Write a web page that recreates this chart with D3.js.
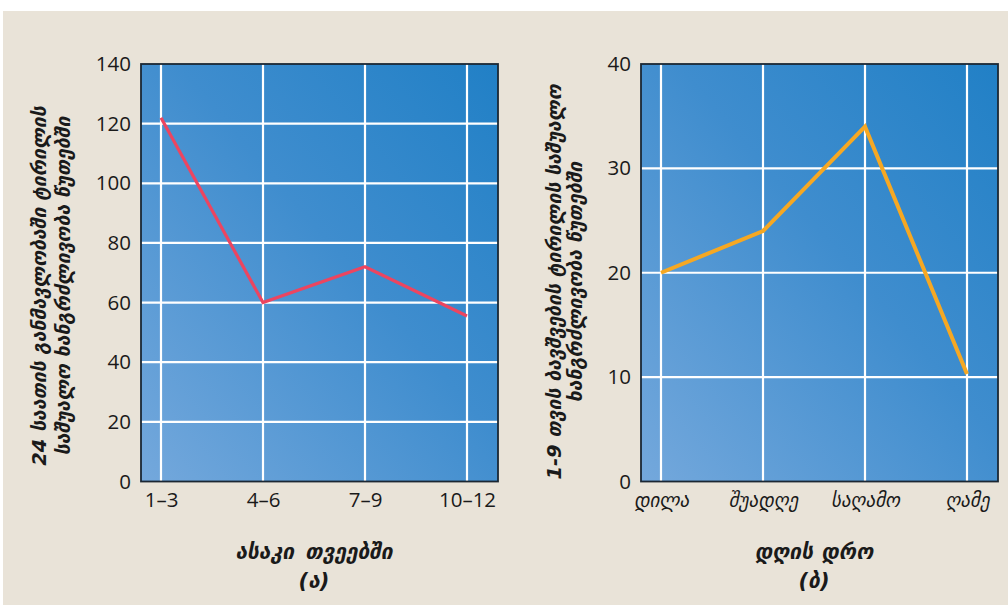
<!DOCTYPE html>
<html>
<head>
<meta charset="utf-8">
<script src="https://cdn.jsdelivr.net/npm/d3@7"></script>
<style>
html,body{margin:0;padding:0;background:#fff;}
svg{display:block;}
</style>
</head>
<body>
<svg id="chart" width="1008" height="605"></svg>
<script>
// ---- data ----
const ageCategories = ["1–3", "4–6", "7–9", "10–12"];
const ageValues = [122, 60, 72, 55.5];
const ageTicks = [0, 20, 40, 60, 80, 100, 120, 140];

const dayCategories = ["დილა", "შუადღე", "საღამო", "ღამე"];
const dayValues = [20, 24, 34, 10.3];
const dayTicks = [0, 10, 20, 30, 40];

const leftYTitle = ["24 საათის განმავლობაში ტირილის", "საშუალო ხანგრძლივობა წუთებში"];
const rightYTitle = ["1-9 თვის ბავშვების ტირილის საშუალო", "ხანგრძლივობა წუთებში"];
const leftXTitle = ["ასაკი თვეებში", "(ა)"];
const rightXTitle = ["დღის დრო", "(ბ)"];

const svg = d3.select("#chart");
svg.append("rect").attr("x", 3).attr("y", 11).attr("width", 1005).attr("height", 594).attr("fill", "#e9e3d8");

const defs = svg.append("defs");
const grad = defs.append("linearGradient").attr("id", "bg").attr("x1", 0).attr("y1", 1).attr("x2", 1).attr("y2", 0);
grad.append("stop").attr("offset", "0%").attr("stop-color", "#74a8dc");
grad.append("stop").attr("offset", "55%").attr("stop-color", "#3f8dce");
grad.append("stop").attr("offset", "100%").attr("stop-color", "#2180c6");

const geoFont = "'DejaVu Sans', sans-serif";
const numFont = "'Open Sans', 'Noto Sans', sans-serif";

function panel(cfg) {
  const {x0, x1, y0, y1, cats, vals, ticks, color, width, yTitle, xTitle, georgianTicks} = cfg;
  const g = svg.append("g");
  const x = d3.scalePoint().domain(cats).range([x0 + 20, x1 - 31]);
  const y = d3.scaleLinear().domain([ticks[0], ticks[ticks.length - 1]]).range([y1, y0]);

  g.append("rect").attr("x", x0).attr("y", y0).attr("width", x1 - x0).attr("height", y1 - y0)
    .attr("fill", "url(#bg)");

  // grid
  g.selectAll(".hg").data(ticks.slice(1, -1)).join("line")
    .attr("x1", x0).attr("x2", x1).attr("y1", d => y(d)).attr("y2", d => y(d))
    .attr("stroke", "#fff").attr("stroke-width", 2.2);
  g.selectAll(".vg").data(cats).join("line")
    .attr("x1", d => x(d)).attr("x2", d => x(d)).attr("y1", y0).attr("y2", y1)
    .attr("stroke", "#fff").attr("stroke-width", 2.2);

  g.append("rect").attr("x", x0).attr("y", y0).attr("width", x1 - x0).attr("height", y1 - y0)
    .attr("fill", "none").attr("stroke", "#1b2733").attr("stroke-width", 1.8);

  // line
  const line = d3.line().x((d, i) => x(cats[i])).y(d => y(d));
  g.append("path").datum(vals).attr("d", line).attr("fill", "none")
    .attr("stroke", color).attr("stroke-width", width).attr("stroke-linejoin", "miter");

  // y axis
  const ya = d3.axisLeft(y).tickValues(ticks).tickSize(0).tickPadding(10).tickFormat(d3.format("d"));
  const yg = g.append("g").attr("transform", `translate(${x0},0)`).call(ya);
  yg.select(".domain").remove();
  yg.selectAll("text").attr("font-family", numFont).attr("font-size", 20.5).attr("fill", "#1a1a1a");

  // x axis
  const xa = d3.axisBottom(x).tickSize(0).tickPadding(georgianTicks ? 12 : 11);
  const xg = g.append("g").attr("transform", `translate(0,${y1})`).call(xa);
  xg.select(".domain").remove();
  xg.selectAll("text")
    .attr("font-family", georgianTicks ? geoFont : numFont)
    .attr("font-size", georgianTicks ? 19 : 20.5)
    .attr("font-style", georgianTicks ? "italic" : "normal")
    .attr("fill", "#1a1a1a");

  // y title
  const ty = g.append("text").attr("transform", `translate(${yTitle.x},${yTitle.y}) rotate(-90)`)
    .attr("text-anchor", "middle").attr("font-family", geoFont).attr("font-size", 19.5)
    .attr("font-style", "italic").attr("font-weight", "bold").attr("fill", "#1a1a1a");
  yTitle.lines.forEach((t, i) => {
    ty.append("tspan").attr("x", 0).attr("dy", i === 0 ? 0 : yTitle.gap).text(t);
  });

  // x title
  const tx = (x0 + 20 + x1 - 31) / 2;
  xTitle.forEach((t, i) => {
    g.append("text").attr("x", tx).attr("y", 559 + i * 29)
      .attr("text-anchor", "middle").attr("font-family", geoFont).attr("font-size", 21)
      .attr("word-spacing", xTitle === rightXTitle ? 1 : 4)
      .attr("font-style", "italic").attr("font-weight", "bold").attr("fill", "#1a1a1a").text(t);
  });
}

panel({x0: 141, x1: 498, y0: 64, y1: 481.5, cats: ageCategories, vals: ageValues, ticks: ageTicks,
  color: "#ec4560", width: 3.2, georgianTicks: false,
  yTitle: {x: 46, y: 286, gap: 24, lines: leftYTitle}, xTitle: leftXTitle});

panel({x0: 641, x1: 998, y0: 64, y1: 481.5, cats: dayCategories, vals: dayValues, ticks: dayTicks,
  color: "#f6a823", width: 4, georgianTicks: true,
  yTitle: {x: 561, y: 282, gap: 21, lines: rightYTitle}, xTitle: rightXTitle});
</script>
</body>
</html>
